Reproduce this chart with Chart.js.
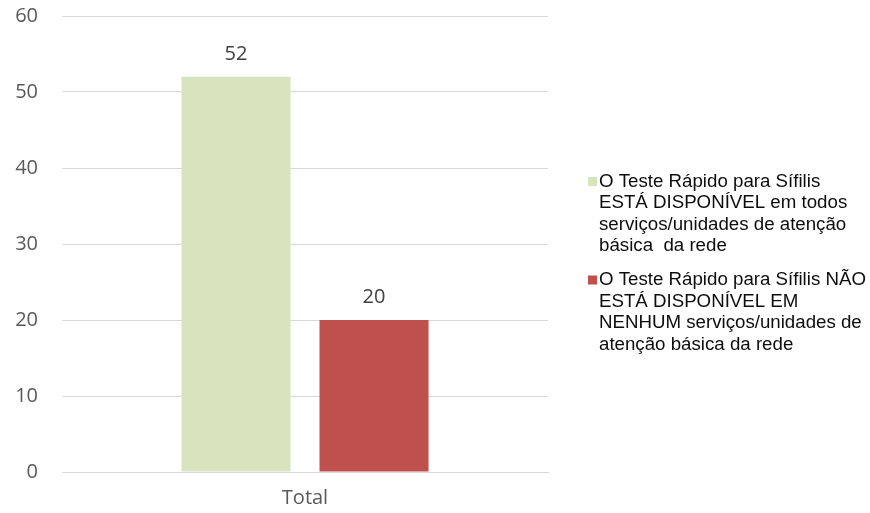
<!DOCTYPE html>
<html>
<head>
<meta charset="utf-8">
<script src="https://cdn.jsdelivr.net/npm/chart.js@4"></script>
<style>
  html, body { margin: 0; padding: 0; background: #fff; }
  #wrap { width: 870px; height: 513px; position: relative; }
</style>
</head>
<body>
<div id="wrap"><canvas id="chart" width="870" height="513"></canvas></div>
<script>
// data
const categories = ['Total'];
const disponivel = [52];
const naoDisponivel = [20];
const yTicks = [0, 10, 20, 30, 40, 50, 60];
const legendLines = [
    ['O Teste Rápido para Sífilis', 'ESTÁ DISPONÍVEL em todos', 'serviços/unidades de atenção', 'básica  da rede'],
    ['O Teste Rápido para Sífilis NÃO', 'ESTÁ DISPONÍVEL EM', 'NENHUM serviços/unidades de', 'atenção básica da rede']
];

// labels above the bars
const valueLabels = {
    id: 'valueLabels',
    afterDatasetsDraw(chart) {
        const c = chart.ctx;
        c.save();
        c.font = '20px "Open Sans"';
        c.fillStyle = '#404040';
        c.textAlign = 'center';
        c.textBaseline = 'middle';
        chart.data.datasets.forEach((ds, i) => {
            chart.getDatasetMeta(i).data.forEach((bar, j) => {
                c.fillText(ds.data[j], bar.x, bar.y - 23);
            });
        });
        c.restore();
    }
};

// legend on the right, with the wrapped lines
const sideLegend = {
    id: 'sideLegend',
    afterDraw(chart) {
        const c = chart.ctx;
        c.save();
        c.font = '18.7px "Liberation Sans"';
        c.textBaseline = 'middle';
        let y = 181.5;
        chart.data.datasets.forEach((ds, i) => {
            c.fillStyle = ds.backgroundColor;
            c.fillRect(588, y - 4.5, 9, 9);
            c.fillStyle = '#0d0d0d';
            legendLines[i].forEach((line, k) => {
                c.fillText(line, 599, y + k * 21.5);
            });
            y += (legendLines[i].length - 1) * 21.5 + 34;
        });
        c.restore();
    }
};

const ctx = document.getElementById('chart').getContext('2d');
let myChart = new Chart(ctx, {
    type: 'bar',
    data: {
        labels: categories,
        datasets: [{
            label: legendLines[0].join(' '),
            data: disponivel,
            backgroundColor: '#D7E4BD'
        }, {
            label: legendLines[1].join(' '),
            data: naoDisponivel,
            backgroundColor: '#C0504D'
        }]
    },
    options: {
        responsive: false,
        animation: false,
        layout: { padding: { top: 16, right: 322, left: 0, bottom: 0 } },
        datasets: {
            bar: { categoryPercentage: 0.568, barPercentage: 0.79 }
        },
        plugins: {
            legend: { display: false },
            tooltip: { enabled: false }
        },
        scales: {
            x: {
                grid: { display: false, drawTicks: false },
                border: { color: '#D9D9D9', width: 1 },
                ticks: { color: '#595959', font: { family: 'Open Sans', size: 20 }, padding: 14 },
                afterFit(scale) { scale.height = 41; }
            },
            y: {
                min: 0,
                max: 60,
                afterBuildTicks(scale) { scale.ticks = yTicks.map(v => ({ value: v })); },
                grid: { color: '#D9D9D9', drawTicks: false },
                border: { display: false },
                ticks: { color: '#595959', font: { family: 'Open Sans', size: 20 }, padding: 24 },
                afterFit(scale) {
                    scale.width = 62;
                    scale.paddingTop = 0;
                    scale.paddingBottom = 0;
                }
            }
        }
    },
    plugins: [valueLabels, sideLegend]
});
</script>
</body>
</html>
